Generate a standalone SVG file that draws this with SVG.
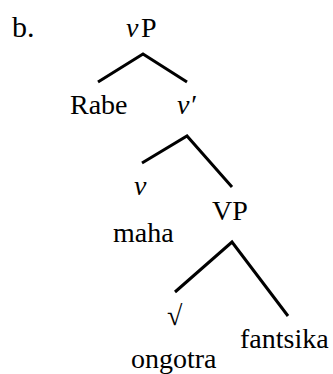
<svg xmlns="http://www.w3.org/2000/svg" width="333" height="374" viewBox="0 0 333 374">
<style>
text{font-family:"Liberation Serif",Tinos,"Times New Roman","DejaVu Serif",serif;font-size:28px;fill:#000}
.i{font-style:italic}
.e{stroke:#000;stroke-width:3;fill:none;stroke-linecap:butt}
</style>
<rect width="333" height="374" fill="#fff"/>
<text x="12" y="37" font-family="Liberation Serif, serif" style="font-size:30px">b.</text>
<g id="vP"><text x="126" y="37"><tspan class="i">v</tspan><tspan x="141">P</tspan></text></g>
<g id="Rabe"><text x="70" y="114">Rabe</text></g>
<g id="vbar"><text x="177" y="114" class="i">v′</text></g>
<g id="v"><text x="134" y="195" class="i">v</text></g>
<g id="maha"><text x="113" y="242">maha</text></g>
<g id="VP"><text x="212" y="220">VP</text></g>
<g id="root"><text x="167" y="325" style="font-size:28px">√</text></g>
<g id="ongotra"><text x="131" y="368">ongotra</text></g>
<g id="fantsika"><text x="240" y="348">fantsika</text></g>
<g id="connectors">
<path class="e" d="M98,82 L143,54 L187,82"/>
<path class="e" d="M142,163 L187,136 L232,187"/>
<path class="e" d="M175,292 L232,242 L288,316"/>
</g>
</svg>
